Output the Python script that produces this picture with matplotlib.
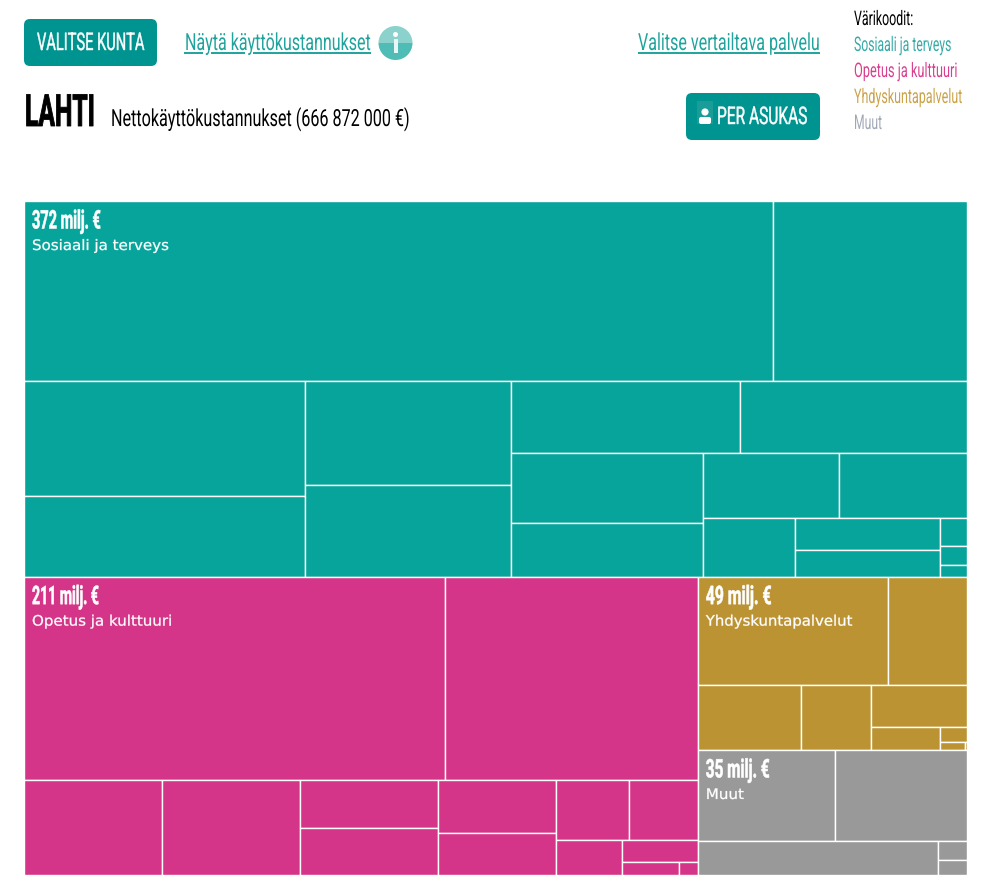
import matplotlib
matplotlib.use("Agg")
import matplotlib.pyplot as plt
from matplotlib.patches import Rectangle, FancyBboxPatch, Circle, Wedge
from matplotlib.patheffects import AbstractPathEffect
from matplotlib.transforms import Affine2D

# values in milj. euro, nested lists = alternating stack / row splits
sosiaali = [
    [141.85, 36.75],
    [[33.7, 23.8], [22.4, 19.8],
     [[17.2, 17.0],
      [[14.1, 10.9],
       [[9.3, 8.7],
        [5.7, [4.85, 4.1], [0.8, 0.54, 0.34]]]]]],
]
opetus = [
    [89.7, 54.0],
    [13.8, 13.75, [6.97, 6.83], [6.6, 5.2],
     [[4.6, 4.36],
      [2.43, [1.76, [0.78, 0.26]]]]],
]
yhdyskunta = [
    [21.6, 9.0],
    [7.04, 4.79,
     [4.24,
      [1.67, [0.43, [0.2, 0.02]]]]],
]
muut = [
    [13.1, 12.6],
    [8.6, [0.58, 0.46]],
]
group_names = ["Sosiaali ja terveys", "Opetus ja kulttuuri", "Yhdyskuntapalvelut", "Muut"]
group_labels = ["372 milj. €", "211 milj. €", "49 milj. €", "35 milj. €"]
legend_title = "Värikoodit:"

TEAL = "#06a49b"
MAGENTA = "#d53588"
GOLD = "#bc9333"
GREY = "#999999"
BUTTON = "#009491"
LINK = "#1fa39c"
NARROW = ["Roboto", "DejaVu Sans"]


class Tall(AbstractPathEffect):
    # the web font is narrower and heavier than anything installed:
    # text is set to the right width, then pulled up to the right height
    def __init__(self, factor, stroke=0):
        super().__init__()
        self.factor = factor
        self.stroke = stroke

    def draw_path(self, renderer, gc, tpath, affine, rgbFace=None):
        m = affine.get_matrix().copy()
        m[1, 0] *= self.factor
        m[1, 1] *= self.factor
        gc0 = renderer.new_gc()
        gc0.copy_properties(gc)
        gc0.set_linewidth(self.stroke)
        if self.stroke:
            gc0.set_foreground(rgbFace)
        renderer.draw_path(gc0, tpath, Affine2D(m), rgbFace)
        gc0.restore()


def total(node):
    if isinstance(node, list):
        return sum(total(n) for n in node)
    return node


def split(node, x0, y0, x1, y1, horizontal, color):
    if not isinstance(node, list):
        ax.add_patch(Rectangle((x0, y0), x1 - x0, y1 - y0, facecolor=color,
                               edgecolor="white", linewidth=1.0))
        return
    s = total(node)
    pos = x0 if horizontal else y0
    for child in node:
        if horizontal:
            step = (x1 - x0) * total(child) / s
            split(child, pos, y0, pos + step, y1, False, color)
        else:
            step = (y1 - y0) * total(child) / s
            split(child, x0, pos, x1, pos + step, True, color)
        pos += step


def label(x, y, s, width, size, color="black", family=NARROW, weight="normal", stroke=0):
    t = ax.text(x, y, s, fontsize=size, color=color, family=family, weight=weight,
                ha="left", va="baseline")
    factor = t.get_window_extent(renderer).width / width
    t.set_fontsize(size / factor)
    t.set_path_effects([Tall(factor, stroke)])
    return t


fig = plt.figure(figsize=(9.84, 8.85), dpi=100)
ax = fig.add_axes([0, 0, 1, 1])
ax.set_xlim(0, 984)
ax.set_ylim(885, 0)
ax.axis("off")
renderer = fig.canvas.get_renderer()

# treemap
left, top, right, bottom = 24, 201, 967, 875
all_total = total(sosiaali) + total(opetus) + total(yhdyskunta) + total(muut)
y_mid = top + (bottom - top) * total(sosiaali) / all_total
low_total = total(opetus) + total(yhdyskunta) + total(muut)
x_mid = left + (right - left) * total(opetus) / low_total
y_low = y_mid + (bottom - y_mid) * total(yhdyskunta) / (total(yhdyskunta) + total(muut))

boxes = [(left, top, right, y_mid), (left, y_mid, x_mid, bottom),
         (x_mid, y_mid, right, y_low), (x_mid, y_low, right, bottom)]
groups = [sosiaali, opetus, yhdyskunta, muut]
colors = [TEAL, MAGENTA, GOLD, GREY]
head_widths = [69, 67, 66, 64]
name_widths = [137, 140, 146, 38]

for i in range(4):
    x0, y0, x1, y1 = boxes[i]
    split(groups[i], x0, y0, x1, y1, False, colors[i])
    label(x0 + 8, y0 + 27.5, group_labels[i], head_widths[i], 18.5, "white",
          weight="bold", stroke=0.4)
    label(x0 + 8, y0 + 49, group_names[i], name_widths[i], 10.4, "white",
          family=["DejaVu Sans"], stroke=0.2)

# header
ax.add_patch(FancyBboxPatch((29, 24), 123, 37, boxstyle="round,pad=5,rounding_size=6",
                            facecolor=BUTTON, edgecolor="none"))
label(37, 50, "VALITSE KUNTA", 107, 17.5, "white", stroke=0.3)

label(185, 50, "Näytä käyttökustannukset", 186, 17, LINK)
for a, b in [(184, 203), (211, 245), (253, 371)]:
    ax.plot([a, b], [52.5, 52.5], color=LINK, lw=1.4, solid_capstyle="butt")

ax.add_patch(Wedge((395.5, 43), 17, 180, 360, facecolor="#8ad2cb", edgecolor="none"))
ax.add_patch(Wedge((395.5, 43), 17, 0, 180, facecolor="#4fbdb6", edgecolor="none"))
ax.add_patch(Circle((395.5, 34.5), 2.5, facecolor="white", edgecolor="none"))
ax.add_patch(Rectangle((393.5, 39), 4, 14, facecolor="#e8f6f5", edgecolor="none"))

label(25, 126, "LAHTI", 70, 32, "black", weight="bold", stroke=0.6)
label(111, 126, "Nettokäyttökustannukset (666 872 000 €)", 299, 17)

label(638, 50, "Valitse vertailtava palvelu", 182, 17, LINK)
for a, b in [(638, 767), (774, 820)]:
    ax.plot([a, b], [52.5, 52.5], color=LINK, lw=1.4, solid_capstyle="butt")

ax.add_patch(FancyBboxPatch((691, 98), 124, 37, boxstyle="round,pad=5,rounding_size=6",
                            facecolor=BUTTON, edgecolor="none"))
ax.add_patch(Rectangle((697, 101), 16, 23, facecolor="#1a9c98", edgecolor="none"))
ax.add_patch(Circle((705, 112), 3.6, facecolor="white", edgecolor="none"))
ax.add_patch(FancyBboxPatch((700, 118), 10, 5, boxstyle="round,pad=1,rounding_size=2",
                            facecolor="white", edgecolor="none"))
label(717, 124, "PER ASUKAS", 90, 17.5, "white", stroke=0.3)

# colour key
label(854, 25, legend_title, 59, 14.5)
label(854, 51, group_names[0], 97, 14.5, "#36a9a7")
label(854, 77, group_names[1], 103, 14.5, "#d8408e")
label(854, 103, group_names[2], 108, 14.5, "#cba24a")
label(854, 129, group_names[3], 28, 14.5, "#a0a8b5")

fig.savefig("out.png", dpi=100)
